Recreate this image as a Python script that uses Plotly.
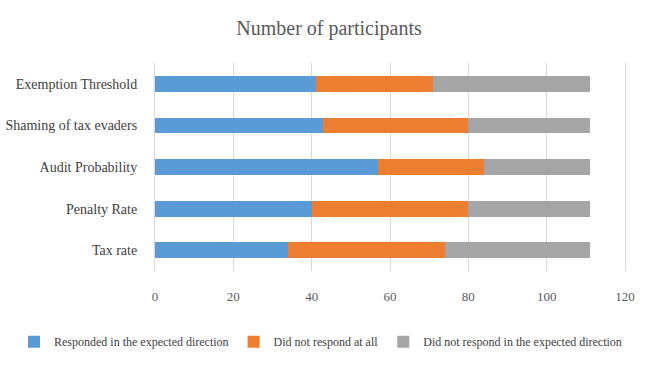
import plotly.graph_objects as go

categories = ["Tax rate", "Penalty Rate", "Audit Probability", "Shaming of tax evaders", "Exemption Threshold"]
responded = [34, 40, 57, 43, 41]
no_response = [40, 40, 27, 37, 30]
not_expected = [37, 31, 27, 31, 40]

series_names = ["Responded in the expected direction", "Did not respond at all", "Did not respond in the expected direction"]
colors = ["#5b9bd5", "#ed7d31", "#a5a5a5"]
x_ticks = [0, 20, 40, 60, 80, 100, 120]

font_family = "Liberation Serif, DejaVu Serif, serif"

fig = go.Figure()
for name, vals, col in zip(series_names, [responded, no_response, not_expected], colors):
    fig.add_trace(go.Bar(y=categories, x=vals, name=name, orientation="h",
                         marker=dict(color=col, line=dict(width=0))))

fig.update_layout(
    barmode="stack",
    bargap=0.62,
    width=658, height=368,
    margin=dict(l=155, r=33, t=63, b=93),
    paper_bgcolor="white", plot_bgcolor="white",
    title=dict(text="Number of participants", x=0.5, xanchor="center", y=0.925, yanchor="middle",
               font=dict(family=font_family, size=20, color="#595959")),
    font=dict(family=font_family, size=13, color="#595959"),
    xaxis=dict(range=[0, 120], tickvals=x_ticks, showgrid=True, gridcolor="#d9d9d9", gridwidth=1,
               zeroline=False, showline=False, ticks="", tickfont=dict(size=13, color="#595959"),
               ticklabelstandoff=16, automargin=False),
    yaxis=dict(showgrid=False, zeroline=False, showline=True, mirror=True, linecolor="#d9d9d9",
               linewidth=1, ticks="", automargin=False,
               tickfont=dict(size=14, color="#404040"), ticklabelstandoff=14),
    legend=dict(orientation="h", x=-0.3, xanchor="left", y=-0.34, yanchor="middle",
                font=dict(size=12, color="#404040"), traceorder="normal",
                itemwidth=30, tracegroupgap=0),
)

fig.write_html("out.html", config={"displayModeBar": False},
               post_script="document.body.style.margin='0';")
